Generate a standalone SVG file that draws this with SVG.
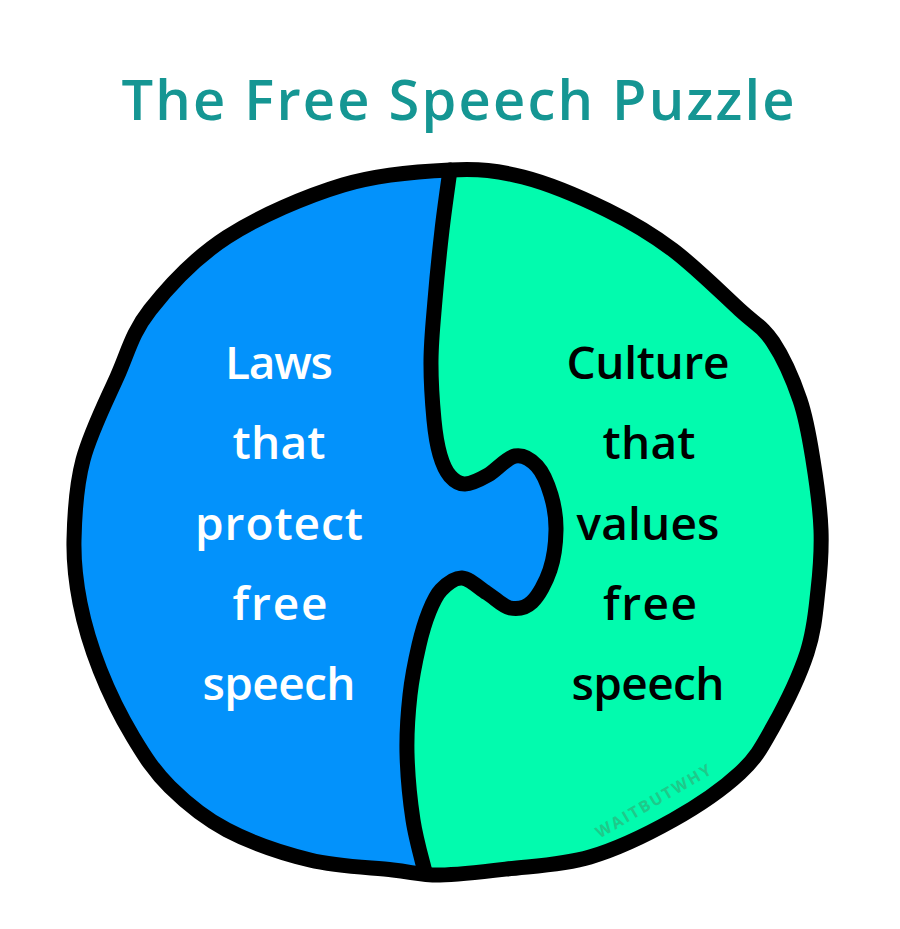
<svg xmlns="http://www.w3.org/2000/svg" width="900" height="929" viewBox="0 0 900 929">
<style>
.t{font-family:"Open Sans","Noto Sans","Liberation Sans",sans-serif;font-weight:600;text-anchor:middle;}
.lw{font-size:46px;fill:#ffffff;}
.rw{font-size:46px;fill:#000000;}
.ln{fill:none;stroke:#000;stroke-width:15;stroke-linecap:round;stroke-linejoin:round;}
</style>
<rect width="900" height="929" fill="#ffffff"/>
<text id="title" class="t" x="458" y="120" font-size="56" fill="#159693" textLength="673" lengthAdjust="spacing">The Free Speech Puzzle</text>
<g id="culture-piece">
<path fill="#02FBAE" d="M450,170 C480,168.7 496.8,170.3 523,177 C549.2,183.7 582,197.8 607,210 C632,222.2 650.8,233.3 673,250 C695.2,266.7 723.3,294.7 740,310 C756.7,325.3 763,327 773,342 C783,357 793.3,380.3 800,400 C806.7,419.7 809.5,438.3 813,460 C816.5,481.7 820.2,508.3 821,530 C821.8,551.7 820.3,569.5 818,590 C815.7,610.5 814.5,630.2 807,653 C799.5,675.8 784.2,707 773,727 C761.8,747 756.7,757.5 740,773 C723.3,788.5 698,806 673,820 C648,834 617.7,848.8 590,857 C562.3,865.2 532,866 507,869 C482,872 459,874.8 440,875 C421,875.2 414.7,872.5 393,870 C371.3,867.5 337.7,866.7 310,860 C282.3,853.3 250.3,842.2 227,830 C203.7,817.8 185.7,802.5 170,787 C154.3,771.5 144.7,756.5 133,737 C121.3,717.5 108.8,692.3 100,670 C91.2,647.7 84.3,624.7 80,603 C75.7,581.3 73.5,563.8 74,540 C74.5,516.2 75.8,487.2 83,460 C90.2,432.8 105.8,402 117,377 C128.2,352 131.7,333.3 150,310 C168.3,286.7 194.8,257.8 227,237 C259.2,216.2 305.8,196.2 343,185 C380.2,173.8 420,171.3 450,170 Z"/>
<text class="t rw" x="648" y="379" textLength="163" lengthAdjust="spacing">Culture</text>
<text class="t rw" x="649" y="459" textLength="93" lengthAdjust="spacing">that</text>
<text class="t rw" x="648" y="540" textLength="143" lengthAdjust="spacing">values</text>
<text class="t rw" x="650" y="620" textLength="94" lengthAdjust="spacing">free</text>
<text class="t rw" x="648" y="700" textLength="153" lengthAdjust="spacing">speech</text>
<text x="0" y="0" font-family="Open Sans, Noto Sans, sans-serif" font-weight="700" text-anchor="middle" font-size="16" fill="#1FC98A" textLength="130" lengthAdjust="spacing" transform="translate(656,806) rotate(-30)">WAITBUTWHY</text>
</g>
<g id="laws-piece">
<path fill="#0392FB" d="M450,170 C448.7,180 444.5,208.3 442,230 C439.5,251.7 436.8,278.3 435,300 C433.2,321.7 431.2,340 431,360 C430.8,380 432.5,404.2 434,420 C435.5,435.8 437.3,445.7 440,455 C442.7,464.3 445.8,471.2 450,476 C454.2,480.8 458.7,484.2 465,484 C471.3,483.8 479.7,479.7 488,475 C496.3,470.3 506.8,457.5 515,456 C523.2,454.5 531,459.5 537,466 C543,472.5 547.8,484.3 551,495 C554.2,505.7 556.2,517.5 556,530 C555.8,542.5 554,558 550,570 C546,582 538.7,595.7 532,602 C525.3,608.3 517.5,609.5 510,608 C502.5,606.5 495,598 487,593 C479,588 469.7,578.5 462,578 C454.3,577.5 446.5,584.3 441,590 C435.5,595.7 432.7,602.8 429,612 C425.3,621.2 422.2,631.2 419,645 C415.8,658.8 412,677 410,695 C408,713 406.5,732.2 407,753 C407.5,773.8 410,800.2 413,820 C416,839.8 423,863.3 425,872 L393,870 C371.3,867.5 337.7,866.7 310,860 C282.3,853.3 250.3,842.2 227,830 C203.7,817.8 185.7,802.5 170,787 C154.3,771.5 144.7,756.5 133,737 C121.3,717.5 108.8,692.3 100,670 C91.2,647.7 84.3,624.7 80,603 C75.7,581.3 73.5,563.8 74,540 C74.5,516.2 75.8,487.2 83,460 C90.2,432.8 105.8,402 117,377 C128.2,352 131.7,333.3 150,310 C168.3,286.7 194.8,257.8 227,237 C259.2,216.2 305.8,196.2 343,185 C380.2,173.8 420,171.3 450,170 Z"/>
<text class="t lw" x="279" y="379" textLength="108" lengthAdjust="spacing">Laws</text>
<text class="t lw" x="279" y="459" textLength="93" lengthAdjust="spacing">that</text>
<text class="t lw" x="279" y="540" textLength="168" lengthAdjust="spacing">protect</text>
<text class="t lw" x="280" y="620" textLength="95" lengthAdjust="spacing">free</text>
<text class="t lw" x="279" y="700" textLength="153" lengthAdjust="spacing">speech</text>
</g>
<g id="connectors">
<path class="ln" d="M450,170 C480,168.7 496.8,170.3 523,177 C549.2,183.7 582,197.8 607,210 C632,222.2 650.8,233.3 673,250 C695.2,266.7 723.3,294.7 740,310 C756.7,325.3 763,327 773,342 C783,357 793.3,380.3 800,400 C806.7,419.7 809.5,438.3 813,460 C816.5,481.7 820.2,508.3 821,530 C821.8,551.7 820.3,569.5 818,590 C815.7,610.5 814.5,630.2 807,653 C799.5,675.8 784.2,707 773,727 C761.8,747 756.7,757.5 740,773 C723.3,788.5 698,806 673,820 C648,834 617.7,848.8 590,857 C562.3,865.2 532,866 507,869 C482,872 459,874.8 440,875 C421,875.2 414.7,872.5 393,870 C371.3,867.5 337.7,866.7 310,860 C282.3,853.3 250.3,842.2 227,830 C203.7,817.8 185.7,802.5 170,787 C154.3,771.5 144.7,756.5 133,737 C121.3,717.5 108.8,692.3 100,670 C91.2,647.7 84.3,624.7 80,603 C75.7,581.3 73.5,563.8 74,540 C74.5,516.2 75.8,487.2 83,460 C90.2,432.8 105.8,402 117,377 C128.2,352 131.7,333.3 150,310 C168.3,286.7 194.8,257.8 227,237 C259.2,216.2 305.8,196.2 343,185 C380.2,173.8 420,171.3 450,170 Z"/>
<path class="ln" d="M450,170 C448.7,180 444.5,208.3 442,230 C439.5,251.7 436.8,278.3 435,300 C433.2,321.7 431.2,340 431,360 C430.8,380 432.5,404.2 434,420 C435.5,435.8 437.3,445.7 440,455 C442.7,464.3 445.8,471.2 450,476 C454.2,480.8 458.7,484.2 465,484 C471.3,483.8 479.7,479.7 488,475 C496.3,470.3 506.8,457.5 515,456 C523.2,454.5 531,459.5 537,466 C543,472.5 547.8,484.3 551,495 C554.2,505.7 556.2,517.5 556,530 C555.8,542.5 554,558 550,570 C546,582 538.7,595.7 532,602 C525.3,608.3 517.5,609.5 510,608 C502.5,606.5 495,598 487,593 C479,588 469.7,578.5 462,578 C454.3,577.5 446.5,584.3 441,590 C435.5,595.7 432.7,602.8 429,612 C425.3,621.2 422.2,631.2 419,645 C415.8,658.8 412,677 410,695 C408,713 406.5,732.2 407,753 C407.5,773.8 410,800.2 413,820 C416,839.8 423,863.3 425,872"/>
</g>
</svg>
